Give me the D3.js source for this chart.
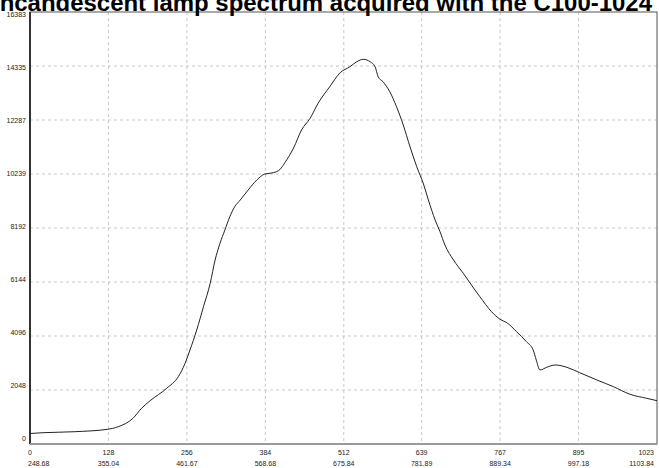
<!DOCTYPE html>
<html>
<head>
<meta charset="utf-8">
<script src="https://cdn.jsdelivr.net/npm/d3@7"></script>
<style>
  body { margin: 0; background: #fff; overflow: hidden; }
  text { font-family: "Liberation Sans", Arial, sans-serif; }
</style>
</head>
<body>
<div id="chart-area"></div>
<script>
// spectrum (pixel index -> counts)
var pixelIndex = [0, 21, 73, 126, 144, 168, 182, 196, 223, 242, 253, 261, 272, 283, 294, 302, 310, 318, 326, 334,
  343, 356, 370, 383, 397, 408, 416, 430, 443, 457, 470, 489, 506, 522, 533, 544, 555, 563, 568, 576,
  587, 598, 609, 620, 631, 642, 650, 661, 669, 677, 691, 707, 726, 734, 753, 767, 778, 794, 810, 821,
  826, 832, 843, 857, 876, 897, 925, 952, 979, 1006, 1023];
var counts = [398, 428, 466, 557, 656, 975, 1354, 1642, 2112, 2552, 3060, 3564, 4323, 5206, 6094, 6977, 7611, 8115, 8619, 8998,
  9252, 9632, 10011, 10238, 10288, 10417, 10674, 11224, 11907, 12351, 12919, 13549, 14080, 14307, 14497, 14588, 14497, 14307, 13928, 13738,
  13359, 12790, 12096, 11274, 10515, 9859, 9252, 8494, 8050, 7546, 6977, 6473, 5840, 5586, 5017, 4729, 4600, 4258, 3879, 3564,
  3185, 2806, 2908, 2996, 2908, 2704, 2427, 2173, 1885, 1733, 1642];

var xTicks = [0, 128, 256, 384, 512, 639, 767, 895, 1023];
var xWaveLabels = ["248.68", "355.04", "461.67", "568.68", "675.84", "781.89", "889.34", "997.18", "1103.84"];
var yTicks = [0, 2048, 4096, 6144, 8192, 10239, 12287, 14335, 16383];
var title = "Incandescent lamp spectrum acquired with the C100-1024";

var W = 659, H = 468;
var plot = {left: 30, right: 657, top: 12, bottom: 444};

var svg = d3.select("#chart-area").append("svg")
  .attr("width", W).attr("height", H)
  .style("display", "block");

svg.append("rect").attr("width", W).attr("height", H).attr("fill", "#fff");

var x = d3.scaleLinear().domain([0, 1023]).range([plot.left, plot.right]);
var y = d3.scaleLinear().domain([0, 16383]).range([plot.bottom, plot.top]);
// the labels sit a little inside the frame
var yLab = d3.scaleLinear().domain([0, 16383]).range([439, 15]);

// grid
svg.append("g").selectAll("line").data(xTicks.slice(1, -1)).enter().append("line")
  .attr("x1", d => x(d)).attr("x2", d => x(d))
  .attr("y1", plot.top).attr("y2", plot.bottom)
  .attr("stroke", "#c8c8c8").attr("stroke-dasharray", "3,3");

svg.append("g").selectAll("line").data(yTicks.slice(1, -1)).enter().append("line")
  .attr("x1", plot.left).attr("x2", plot.right)
  .attr("y1", d => y(d)).attr("y2", d => y(d))
  .attr("stroke", "#c8c8c8").attr("stroke-dasharray", "3,3");

// frame
svg.append("rect")
  .attr("x", plot.left).attr("y", plot.top)
  .attr("width", plot.right - plot.left).attr("height", plot.bottom - plot.top)
  .attr("fill", "none").attr("stroke", "#555").attr("stroke-width", 1);
svg.append("line")
  .attr("x1", plot.left).attr("x2", plot.left).attr("y1", plot.top).attr("y2", plot.bottom)
  .attr("stroke", "#333").attr("stroke-width", 2);
svg.append("line")
  .attr("x1", plot.left).attr("x2", plot.right).attr("y1", plot.bottom).attr("y2", plot.bottom)
  .attr("stroke", "#999").attr("stroke-width", 2);

// y labels
svg.append("g").selectAll("text").data(yTicks).enter().append("text")
  .attr("x", 26).attr("y", d => yLab(d))
  .attr("dy", "0.35em")
  .attr("text-anchor", "end")
  .attr("font-size", "7px")
  .attr("fill", "#222")
  .text(d => d);

// x labels, two rows; first and last are kept inside the picture
function anchor(d, i) { return i == 0 ? "start" : (i == xTicks.length - 1 ? "end" : "middle"); }
function labX(t, i) { return i == 0 ? x(t) - 2 : (i == xTicks.length - 1 ? x(t) - 3 : x(t)); }

svg.append("g").selectAll("text").data(xTicks).enter().append("text")
  .attr("x", (d, i) => i == 0 ? x(d) - 2 : labX(d, i))
  .attr("y", 455)
  .attr("text-anchor", anchor)
  .attr("font-size", "7px")
  .attr("fill", "#222")
  .text(d => d);

svg.append("g").selectAll("text").data(xWaveLabels).enter().append("text")
  .attr("x", (d, i) => labX(xTicks[i], i))
  .attr("y", 466)
  .attr("text-anchor", anchor)
  .attr("font-size", "7px")
  .attr("fill", "#222")
  .text(d => d);

// spectrum
var line = d3.line()
  .x((d, i) => x(pixelIndex[i]))
  .y(d => y(d))
  .curve(d3.curveMonotoneX);

svg.append("path")
  .datum(counts)
  .attr("d", line)
  .attr("fill", "none")
  .attr("stroke", "#222")
  .attr("stroke-width", 1);

// title (runs off the left edge like in the original)
svg.append("text")
  .attr("x", -7).attr("y", 11)
  .attr("textLength", 659)
  .attr("lengthAdjust", "spacingAndGlyphs")
  .attr("font-size", "23px")
  .attr("font-weight", "bold")
  .attr("fill", "#000")
  .text(title);
</script>
</body>
</html>
